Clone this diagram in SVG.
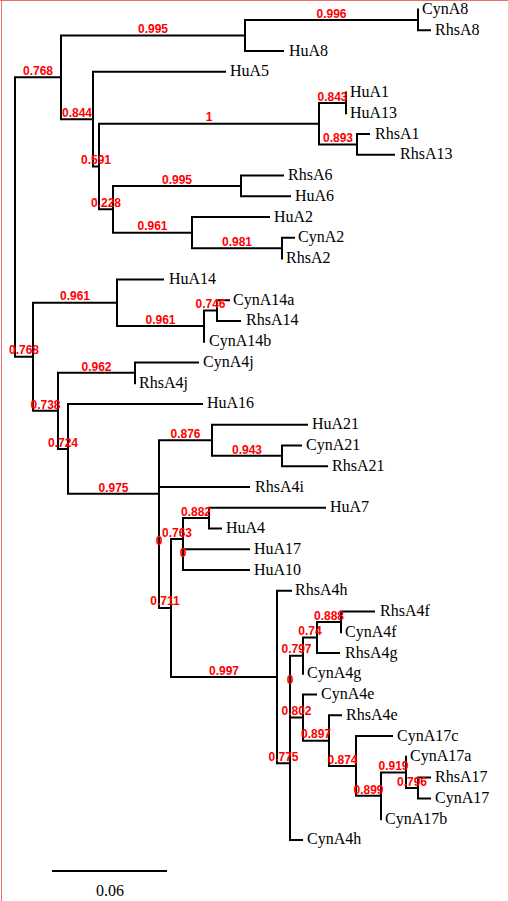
<svg xmlns="http://www.w3.org/2000/svg" width="508" height="901" viewBox="0 0 508 901">
<style>
.br{fill:none;stroke:#000;stroke-width:2;stroke-linecap:square}
.lf{font-family:"Liberation Serif","Times New Roman",serif;font-size:16px;fill:#000}
.sp{font-family:"Liberation Sans",Arial,sans-serif;font-size:12px;font-weight:bold;fill:#f00;text-anchor:middle}
</style>
<rect width="508" height="901" fill="#fff"/>
<path d="M0,0.5H508M1.5,0V901" stroke="#e87070" stroke-width="1" fill="none"/>
<g id="connectors">
<path class="br" d="M15,77.3V356.8M15,77.3H61M15,356.8H33
M61,35.45V119.14M61,35.45H245M61,119.14H93
M245,19.88V51.02M245,19.88H418M245,51.02H283
M418,9.5V30.26M418,30.26H430
M93,71.78V166.5M93,71.78H225M93,166.5H99
M99,123.68V209.32M99,123.68H319M99,209.32H113
M319,102.92V144.44M319,102.92H346M319,144.44H357
M346,92.54V113.3
M357,134.06V154.82M357,134.06H369M357,154.82H394
M113,185.96V232.67M113,185.96H241M113,232.67H192
M241,175.58V196.34M241,175.58H283M241,196.34H290
M192,217.1V248.24M192,217.1H269M192,248.24H282
M282,237.86V258.62M282,237.86H294
M33,302.74V410.85M33,302.74H117M33,410.85H58
M117,279.38V326.09M117,279.38H163M117,326.09H204
M204,310.52V341.66M204,310.52H217
M217,300.14V320.9M217,300.14H229M217,320.9H240
M58,372.8V448.9M58,372.8H135M58,448.9H68
M135,362.42V383.18M135,362.42H198
M68,403.94V493.87M68,403.94H202M68,493.87H159
M159,440.27V607.96M159,440.27H212M159,486.98H249M159,607.96H171
M212,424.7V455.84M212,424.7H307M212,455.84H282
M282,445.46V466.22M282,445.46H301M282,466.22H327
M171,538.88V677.03M171,538.88H183M171,677.03H277
M183,518.12V570.02M183,518.12H209M183,549.26H249M183,570.02H249
M209,507.74V528.5M209,507.74H325M209,528.5H221
M277,590.78V763.27M277,590.78H291M277,763.27H290
M290,655.66V839.9M290,839.9H302M290,655.66H303M290,717.62H303
M303,637.49V673.82M303,637.49H317
M317,621.92V653.06M317,621.92H341M317,653.06H339
M341,611.54V632.3M341,611.54H374
M303,694.58V740.65M303,694.58H316M303,740.65H329
M329,715.34V765.95M329,715.34H341M329,765.95H356
M356,736.1V795.79M356,736.1H392M356,795.79H381
M381,772.43V819.14M381,772.43H406
M406,756.86V788M406,788H418
M418,777.62V798.38M418,777.62H430M418,798.38H430"/>
</g>
<g id="leaves">
<g id="CynA8"><text class="lf" x="422" y="14">CynA8</text></g>
<g id="RhsA8"><text class="lf" x="435" y="34.8">RhsA8</text></g>
<g id="HuA8"><text class="lf" x="289" y="55.5">HuA8</text></g>
<g id="HuA5"><text class="lf" x="230" y="76.3">HuA5</text></g>
<g id="HuA1"><text class="lf" x="350" y="97">HuA1</text></g>
<g id="HuA13"><text class="lf" x="350" y="117.8">HuA13</text></g>
<g id="RhsA1"><text class="lf" x="375" y="138.6">RhsA1</text></g>
<g id="RhsA13"><text class="lf" x="400" y="159.3">RhsA13</text></g>
<g id="RhsA6"><text class="lf" x="288" y="180.1">RhsA6</text></g>
<g id="HuA6"><text class="lf" x="295" y="200.8">HuA6</text></g>
<g id="HuA2"><text class="lf" x="274" y="221.6">HuA2</text></g>
<g id="CynA2"><text class="lf" x="298" y="242.4">CynA2</text></g>
<g id="RhsA2"><text class="lf" x="286" y="263.1">RhsA2</text></g>
<g id="HuA14"><text class="lf" x="169" y="283.9">HuA14</text></g>
<g id="CynA14a"><text class="lf" x="233" y="304.6">CynA14a</text></g>
<g id="RhsA14"><text class="lf" x="246" y="325.4">RhsA14</text></g>
<g id="CynA14b"><text class="lf" x="209" y="346.2">CynA14b</text></g>
<g id="CynA4j"><text class="lf" x="203" y="366.9">CynA4j</text></g>
<g id="RhsA4j"><text class="lf" x="139" y="387.7">RhsA4j</text></g>
<g id="HuA16"><text class="lf" x="207" y="408.4">HuA16</text></g>
<g id="HuA21"><text class="lf" x="312" y="429.2">HuA21</text></g>
<g id="CynA21"><text class="lf" x="306" y="450">CynA21</text></g>
<g id="RhsA21"><text class="lf" x="332" y="470.7">RhsA21</text></g>
<g id="RhsA4i"><text class="lf" x="255" y="491.5">RhsA4i</text></g>
<g id="HuA7"><text class="lf" x="330" y="512.2">HuA7</text></g>
<g id="HuA4"><text class="lf" x="226" y="533">HuA4</text></g>
<g id="HuA17"><text class="lf" x="254" y="553.8">HuA17</text></g>
<g id="HuA10"><text class="lf" x="254" y="574.5">HuA10</text></g>
<g id="RhsA4h"><text class="lf" x="295" y="595.3">RhsA4h</text></g>
<g id="RhsA4f"><text class="lf" x="380" y="616">RhsA4f</text></g>
<g id="CynA4f"><text class="lf" x="345" y="636.8">CynA4f</text></g>
<g id="RhsA4g"><text class="lf" x="345" y="657.6">RhsA4g</text></g>
<g id="CynA4g"><text class="lf" x="307" y="678.3">CynA4g</text></g>
<g id="CynA4e"><text class="lf" x="321" y="699.1">CynA4e</text></g>
<g id="RhsA4e"><text class="lf" x="346" y="719.8">RhsA4e</text></g>
<g id="CynA17c"><text class="lf" x="397" y="740.6">CynA17c</text></g>
<g id="CynA17a"><text class="lf" x="410" y="761.4">CynA17a</text></g>
<g id="RhsA17"><text class="lf" x="435" y="782.1">RhsA17</text></g>
<g id="CynA17"><text class="lf" x="435" y="802.9">CynA17</text></g>
<g id="CynA17b"><text class="lf" x="385" y="823.6">CynA17b</text></g>
<g id="CynA4h"><text class="lf" x="307" y="844.4">CynA4h</text></g>
</g>
<g id="supports">
<g id="n1"><text class="sp" x="38" y="75">0.768</text></g>
<g id="n2"><text class="sp" x="153" y="33.1">0.995</text></g>
<g id="n3"><text class="sp" x="331.5" y="17.6">0.996</text></g>
<g id="n4"><text class="sp" x="77" y="116.8">0.844</text></g>
<g id="n5"><text class="sp" x="96" y="164.2">0.591</text></g>
<g id="n6"><text class="sp" x="209" y="121.4">1</text></g>
<g id="n8"><text class="sp" x="332.5" y="100.6">0.843</text></g>
<g id="n9"><text class="sp" x="338" y="142.1">0.893</text></g>
<g id="n7"><text class="sp" x="106" y="207">0.228</text></g>
<g id="n10"><text class="sp" x="177" y="183.7">0.995</text></g>
<g id="n11"><text class="sp" x="152.5" y="230.4">0.961</text></g>
<g id="n12"><text class="sp" x="237" y="245.9">0.981</text></g>
<g id="m"><text class="sp" x="24" y="354.3">0.768</text></g>
<g id="q1"><text class="sp" x="75" y="300.4">0.961</text></g>
<g id="q3"><text class="sp" x="160.5" y="323.8">0.961</text></g>
<g id="n14"><text class="sp" x="210.5" y="308.2">0.746</text></g>
<g id="q2"><text class="sp" x="45.5" y="408.5">0.738</text></g>
<g id="q4"><text class="sp" x="96.5" y="370.5">0.962</text></g>
<g id="q5"><text class="sp" x="63" y="446.6">0.724</text></g>
<g id="q6"><text class="sp" x="113.5" y="491.6">0.975</text></g>
<g id="q7"><text class="sp" x="185.5" y="438">0.876</text></g>
<g id="q8"><text class="sp" x="247" y="453.5">0.943</text></g>
<g id="q6b"><text class="sp" x="159" y="545.2">0</text></g>
<g id="q10"><text class="sp" x="165" y="605.4">0.711</text></g>
<g id="q11"><text class="sp" x="177" y="536.6">0.763</text></g>
<g id="q13"><text class="sp" x="196" y="515.8">0.882</text></g>
<g id="q11b"><text class="sp" x="183" y="557.3">0</text></g>
<g id="q12"><text class="sp" x="224" y="674.7">0.997</text></g>
<g id="q14"><text class="sp" x="283.5" y="761">0.775</text></g>
<g id="q15"><text class="sp" x="290" y="683.8">0</text></g>
<g id="q16"><text class="sp" x="296.5" y="653.4">0.797</text></g>
<g id="q18"><text class="sp" x="310" y="635.2">0.74</text></g>
<g id="q19"><text class="sp" x="329" y="619.6">0.888</text></g>
<g id="q17"><text class="sp" x="296.5" y="715.3">0.802</text></g>
<g id="q20"><text class="sp" x="316" y="738.3">0.897</text></g>
<g id="q21"><text class="sp" x="342.5" y="763.6">0.874</text></g>
<g id="q22"><text class="sp" x="368.5" y="793.5">0.899</text></g>
<g id="q23"><text class="sp" x="393.5" y="770.1">0.919</text></g>
<g id="q24"><text class="sp" x="412" y="785.7">0.796</text></g>
</g>
<g id="scale">
<path class="br" d="M53,871H166" stroke-linecap="butt"/>
<text class="lf" x="110" y="896" text-anchor="middle">0.06</text>
</g>
</svg>
